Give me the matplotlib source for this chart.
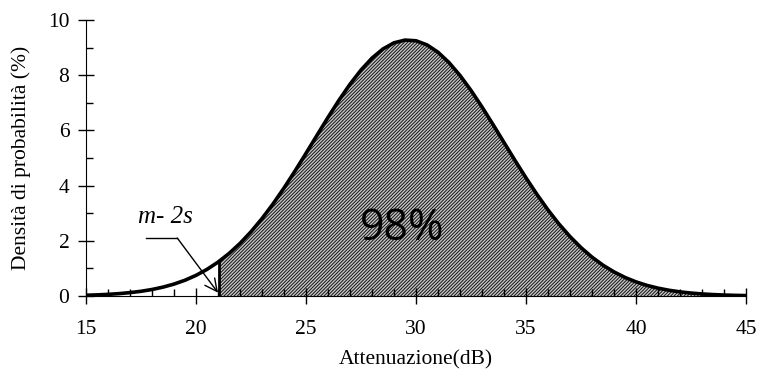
import matplotlib.pyplot as plt
from matplotlib.ticker import MultipleLocator

# valori (densità in %)
att = [15, 15.5, 16, 16.5, 17, 17.5, 18, 18.5, 19, 19.5, 20, 20.5, 21,
       21.5, 22, 22.5, 23, 23.5, 24, 24.5, 25, 25.5, 26, 26.5, 27, 27.5,
       28, 28.5, 29, 29.5, 30, 30.5, 31, 31.5, 32, 32.5, 33, 33.5, 34,
       34.5, 35, 35.5, 36, 36.5, 37, 37.5, 38, 38.5, 39, 39.5, 40, 40.5,
       41, 41.5, 42, 42.5, 43, 43.5, 44, 44.5, 45]
dens = [0.028, 0.041, 0.060, 0.086, 0.123, 0.171, 0.236, 0.322, 0.432,
        0.572, 0.748, 0.965, 1.227, 1.540, 1.906, 2.328, 2.806, 3.336,
        3.913, 4.529, 5.170, 5.824, 6.472, 7.095, 7.673, 8.188, 8.620,
        8.952, 9.173, 9.272, 9.247, 9.098, 8.832, 8.458, 7.991, 7.448,
        6.849, 6.214, 5.562, 4.911, 4.279, 3.678, 3.118, 2.608, 2.153,
        1.753, 1.408, 1.116, 0.873, 0.673, 0.512, 0.384, 0.285, 0.208,
        0.150, 0.107, 0.075, 0.052, 0.035, 0.024, 0.016]
x_cut = 21.05   # m - 2s
y_cut = 1.26

plt.rcParams['hatch.linewidth'] = 0.7
fig = plt.figure(figsize=(7.57, 3.73), dpi=100)
ax = fig.add_axes([0.1136, 0.2064, 0.8719, 0.74])

xs = [x_cut] + [a for a in att if a > x_cut]
ys = [y_cut] + [d for a, d in zip(att, dens) if a > x_cut]
ax.fill_between(xs, 0, ys, facecolor='#c6c6c6', edgecolor='#111111',
                hatch='//////////', linewidth=0)
ax.plot(att, dens, color='black', lw=2.6)
ax.plot([x_cut, x_cut], [0, y_cut], color='black', lw=2)

ax.text(18.6, 2.85, 'm- 2s', family='Liberation Serif', style='italic',
        fontsize=18, ha='center', va='center')
ax.plot([17.75, 19.15], [2.1, 2.1], color='black', lw=1)
ax.annotate('', xy=(21.0, 0.12), xytext=(19.15, 2.1),
            arrowprops=dict(arrowstyle='->', color='black', lw=1,
                            mutation_scale=22, shrinkA=0, shrinkB=0))
ax.text(29.35, 2.45, '98%', family='Open Sans', fontsize=31,
        ha='center', va='center')

ax.set_xlim(15, 45)
ax.set_ylim(0, 10)
ax.xaxis.set_major_locator(MultipleLocator(5))
ax.xaxis.set_minor_locator(MultipleLocator(1))
ax.yaxis.set_major_locator(MultipleLocator(2))
ax.yaxis.set_minor_locator(MultipleLocator(1))
ax.tick_params(which='major', direction='inout', length=12, width=1,
               labelsize=15.5)
ax.tick_params(axis='x', which='major', pad=11)
ax.tick_params(axis='y', which='major', pad=6)
ax.tick_params(which='minor', direction='in', length=5, width=1)
for lab in ax.get_xticklabels() + ax.get_yticklabels():
    lab.set_family('Liberation Serif')
for s in ['top', 'right']:
    ax.spines[s].set_visible(False)
ax.set_xlabel('Attenuazione(dB)', family='Liberation Serif', fontsize=15.5,
              labelpad=8)
ax.set_ylabel('Densità di probabilità (%)', family='Liberation Serif',
              fontsize=15.5, labelpad=12)

fig.savefig('out.png', dpi=100)
